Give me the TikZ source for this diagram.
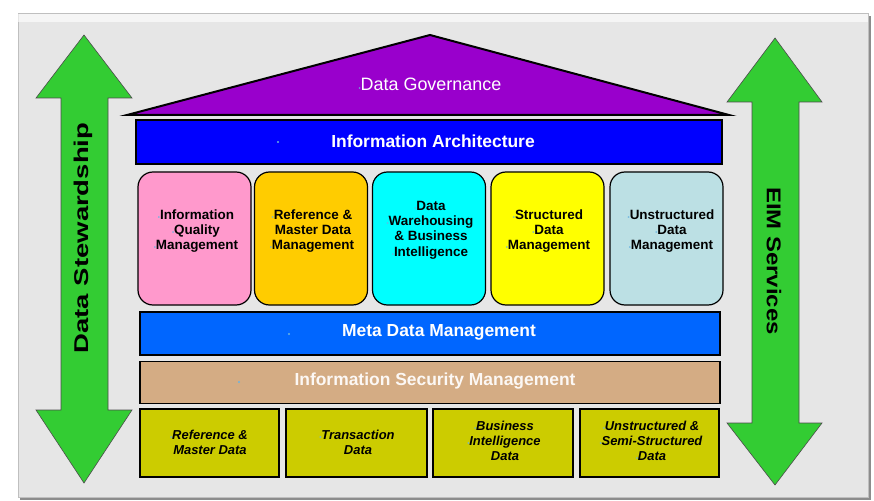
\documentclass[tikz,border=0pt]{standalone}
\usepackage{fontspec}
\setmainfont{Liberation Sans}
\definecolor{panel}{HTML}{E6E6E6}
\definecolor{roofc}{HTML}{9900CC}
\definecolor{iablue}{HTML}{0000FF}
\definecolor{metablue}{HTML}{0066FF}
\definecolor{tan}{HTML}{D4AC84}
\definecolor{pinkc}{HTML}{FF99CC}
\definecolor{orangec}{HTML}{FFCC00}
\definecolor{cyanc}{HTML}{00FFFF}
\definecolor{yellowc}{HTML}{FFFF00}
\definecolor{paleblue}{HTML}{BCE0E4}
\definecolor{olive}{HTML}{CCCC00}
\definecolor{greenc}{HTML}{33CC33}
\definecolor{bulc}{HTML}{6CB4E0}
\newcommand\bdot{\llap{\textcolor{bulc}{\fontsize{6}{6}\selectfont\textbullet}}}
\begin{document}
\begin{tikzpicture}[x=1bp,y=-1bp,
  bar/.style={draw=black, line width=1.6bp, inner sep=0pt, text=white,
    font=\bfseries\fontsize{17.5}{20}\selectfont},
  pillar/.style={draw=black, line width=1.2bp, rounded corners=15bp, inner sep=0pt,
    minimum width=113bp, minimum height=133bp},
  ptext/.style={align=center, inner sep=0pt, font=\bfseries\fontsize{13.5}{15.5}\selectfont},
  dbox/.style={draw=black, line width=1.4bp, fill=olive, inner sep=0pt,
    minimum height=68bp},
  dtext/.style={align=center, inner sep=0pt, font=\bfseries\itshape\fontsize{13}{15}\selectfont},
  bigarrow/.style={fill=greenc, draw=black!70, line width=0.6bp},
  atext/.style={inner sep=0pt, font=\bfseries\fontsize{20}{22}\selectfont}
]
\useasboundingbox (0,0) rectangle (874,501);
\fill[white] (0,0) rectangle (874,501);
\fill[black!45] (20,16) rectangle (871,500);
\fill[panel, draw=black!25, line width=1bp] (18,14) rectangle (868,497);
\fill[white, opacity=0.6] (18,14) rectangle (868,22);

% left arrow
\draw[bigarrow] (84,35) -- (132,98) -- (108,98) -- (108,410) -- (132,410) -- (84,483)
  -- (36,410) -- (61,410) -- (61,98) -- (36,98) -- cycle;
\node[atext, rotate=90, xscale=1.38] (ds) at (83,238) {Data Stewardship};

% right arrow
\draw[bigarrow] (775,38) -- (822,102) -- (799,102) -- (799,423) -- (822,423) -- (775,485)
  -- (727,423) -- (752,423) -- (752,102) -- (727,102) -- cycle;
\node[atext, rotate=-90, xscale=1.2] (eim) at (774,261) {EIM Services};

% roof
\draw[fill=roofc, draw=black, line width=2bp, line join=miter] (430,35) -- (729,115) -- (127,115) -- cycle;
\node[inner sep=0pt, text=white, font=\fontsize{18}{20}\selectfont] (gov) at (431,84) {\bdot Data Governance};

% information architecture
\node[bar, fill=iablue, minimum width=586bp, minimum height=44bp] (ia) at (429,142) {};
\node[inner sep=0pt, text=white, font=\bfseries\fontsize{17.5}{20}\selectfont] (iat) at (433,141) {Information Architecture};
\fill[bulc] (278,142) circle (1.2bp);

% pillars
\node[pillar, fill=pinkc] (p1) at (194.5,238.5) {};
\node[pillar, fill=orangec] (p2) at (311,238.5) {};
\node[pillar, fill=cyanc] (p3) at (429,238.5) {};
\node[pillar, fill=yellowc] (p4) at (547.5,238.5) {};
\node[pillar, fill=paleblue] (p5) at (666.5,238.5) {};
\node[ptext] (p1t) at (197,231) {\bdot Information\\\bdot Quality\\\bdot Management};
\node[ptext] (p2t) at (313,231) {\bdot Reference \&\\Master Data\\\bdot Management};
\node[ptext] (p3t) at (431,230) {\bdot Data\\\bdot Warehousing\\\& Business\\\bdot Intelligence};
\node[ptext] (p4t) at (549,231) {\bdot Structured\\\bdot Data\\\bdot Management};
\node[ptext] (p5t) at (672,231) {\bdot Unstructured\\\bdot Data\\\bdot Management};

% meta data
\node[bar, fill=metablue, minimum width=580bp, minimum height=43bp] (meta) at (430,333.5) {};
\node[inner sep=0pt, text=white, font=\bfseries\fontsize{17.5}{20}\selectfont] (metat) at (439,332) {Meta Data Management};
\fill[bulc] (289,334) circle (1.2bp);

% security
\node[bar, fill=tan, minimum width=580bp, minimum height=42bp] (sec) at (430,382.5) {};
\node[inner sep=0pt, text=white!92!tan, font=\bfseries\fontsize{17.5}{20}\selectfont] (sect) at (435,381) {Information Security Management};
\fill[bulc] (239,382) circle (1.2bp);

% data boxes
\node[dbox, minimum width=139bp] (d1) at (209.5,443) {};
\node[dbox, minimum width=141bp] (d2) at (356.5,443) {};
\node[dbox, minimum width=140bp] (d3) at (503,443) {};
\node[dbox, minimum width=139bp] (d4) at (649.5,443) {};
\node[dtext] (d1t) at (210,442) {\bdot Reference \&\\Master Data};
\node[dtext] (d2t) at (358,442) {\bdot Transaction\\Data};
\node[dtext] (d3t) at (505,441) {\bdot Business\\\bdot Intelligence\\Data};
\node[dtext] (d4t) at (652,441) {\bdot Unstructured \&\\\bdot Semi-Structured\\\bdot Data};
\end{tikzpicture}
\end{document}
